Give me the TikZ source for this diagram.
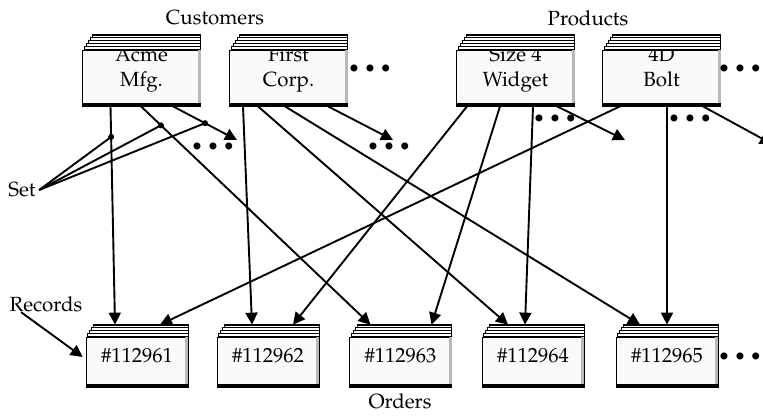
\documentclass[tikz,border=0pt]{standalone}
\usepackage[T1]{fontenc}
\usepackage{mathpazo}
\usepackage{tikz}
\usetikzlibrary{arrows.meta,calc}

% stack of pages behind a record: #1 node name, #2 number of pages
\newcommand{\recstack}[2]{%
	\foreach \k in {#2,...,1}
		\filldraw[fill=white, line width=0.8pt] ([xshift={2pt*\k}, yshift={3pt*\k}]#1.north west) rectangle ([yshift={3pt*\k-3pt}]#1.north east);
	\draw[line width=2pt] ([xshift={2pt*#2}, yshift={3pt*#2}]#1.north west) -- ([yshift={3pt*#2}]#1.north east);
	\fill[gray!55] ([xshift=-3pt]#1.north east) rectangle (#1.south east);
	\fill[black] ([yshift=3.5pt]#1.south west) rectangle (#1.south east);
}

\tikzset{
	record/.style={draw=black, line width=0.7pt, fill=gray!4, inner sep=0pt, align=center},
	cust/.style={record, minimum width=118pt, minimum height=56pt, text height=37pt, text depth=19pt},
	order/.style={record, minimum width=102pt, minimum height=50pt, text height=25pt, text depth=25pt},
	link/.style={line width=1.9pt, -{Triangle[length=12pt,width=12pt]}},
	setline/.style={line width=1.9pt},
	dots/.style={inner sep=0pt}
}

\begin{document}
\begin{tikzpicture}[x=1pt, y=-1pt, every node/.style={font=\fontsize{20.5}{25}\selectfont}]
	\useasboundingbox (0,0) rectangle (763,420);
	\clip (0,0) rectangle (763,420);

	% Customers
	\node (customers) at (215,18) {Customers};
	\node (acme) at (141.5,78) [cust] {Acme\\Mfg.};
	\node (first) at (288.5,78) [cust] {First\\Corp.};
	\recstack{acme}{5}
	\recstack{first}{5}

	% Products
	\node (products) at (588,18) {Products};
	\node (widget) at (515.5,78) [cust] {Size 4\\Widget};
	\node (bolt) at (661.5,78) [cust] {4D\\Bolt};
	\recstack{widget}{5}
	\recstack{bolt}{5}

	% Orders
	\node (o1) at (137,362) [order] {\#112961};
	\node (o2) at (268,362) [order] {\#112962};
	\node (o3) at (400.5,362) [order] {\#112963};
	\node (o4) at (533,362) [order] {\#112964};
	\node (o5) at (667,362) [order] {\#112965};
	\foreach \ord in {o1,o2,o3,o4,o5} {
		\recstack{\ord}{4}
	}
	\node (orders) at (400,401) {Orders};

	% more of the same
	\node (dotsA) at (370,70) [dots] {\textbullet\,\textbullet\,\textbullet};
	\node (dotsB) at (740,70) [dots] {\textbullet\,\textbullet\,\textbullet};
	\node (dotsC) at (213,148) [dots] {\textbullet\,\textbullet\,\textbullet};
	\node (dotsD) at (389,148) [dots] {\textbullet\,\textbullet\,\textbullet};
	\node (dotsE) at (555,120) [dots] {\textbullet\,\textbullet\,\textbullet};
	\node (dotsF) at (690,120) [dots] {\textbullet\,\textbullet\,\textbullet};
	\node (dotsG) at (740,358) [dots] {\textbullet\,\textbullet\,\textbullet};

	% loose ends of the links
	\coordinate (endA) at (237,140);
	\coordinate (endB) at (393,140);
	\coordinate (endC) at (625,140);
	\coordinate (endD) at (772,144);

	% Links from Acme
	\draw[link] ([xshift=-31pt]acme.south) -- coordinate[pos=0.14] (s1) ([xshift=-22pt,yshift=12pt]o1.north);
	\draw[link] ([xshift=-0.5pt]acme.south) -- coordinate[pos=0.087] (s2) ([xshift=-30pt,yshift=12pt]o3.north);
	\draw[link] ([xshift=31.5pt]acme.south) -- coordinate[pos=0.5] (s3) (endA);

	% Links from First Corp.
	\draw[link] ([xshift=-45.5pt]first.south) -- ([xshift=-16pt,yshift=12pt]o2.north);
	\draw[link] ([xshift=-30.5pt]first.south) -- ([xshift=-25pt,yshift=12pt]o4.north);
	\draw[link] ([xshift=-3.5pt]first.south) -- ([xshift=-27pt,yshift=12pt]o5.north);
	\draw[link] ([xshift=39.5pt]first.south) -- (endB);

	% Links from Size 4 Widget
	\draw[link] ([xshift=-48.5pt]widget.south) -- ([xshift=25pt,yshift=12pt]o2.north);
	\draw[link] ([xshift=-15.5pt]widget.south) -- ([xshift=31pt,yshift=12pt]o3.north);
	\draw[link] ([xshift=17.5pt]widget.south) -- ([xshift=-8pt,yshift=12pt]o4.north);
	\draw[link] ([xshift=41.5pt]widget.south) -- (endC);

	% Links from 4D Bolt
	\draw[link] ([xshift=-41.5pt]bolt.south) -- ([xshift=23pt,yshift=12pt]o1.north);
	\draw[link] ([xshift=5.5pt]bolt.south) -- ([xshift=0pt,yshift=12pt]o5.north);
	\draw[link] ([xshift=41.5pt]bolt.south) -- (endD);

	% Set
	\node (set) at (22,190) {Set};
	\foreach \s in {s1,s2,s3} {
		\draw[setline] (set.east) -- (\s);
		\fill (\s) circle (3pt);
	}

	% Records
	\node (records) at (46,304) {Records};
	\draw[link] ([xshift=15pt,yshift=3pt]records.south west) -- ([xshift=-3pt,yshift=5pt]o1.west);

\end{tikzpicture}
\end{document}
